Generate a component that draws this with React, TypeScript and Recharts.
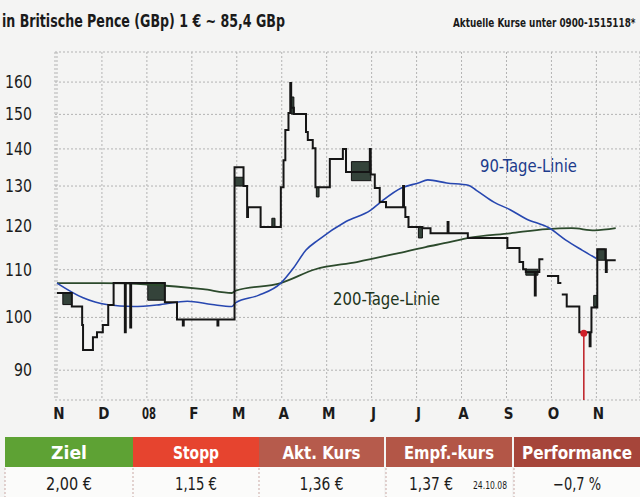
import { ComposedChart, Line, XAxis, YAxis, CartesianGrid, ReferenceArea, ReferenceLine, ReferenceDot } from 'recharts';

// Monate ab Nov 2007 (t = Monate seit 1.11.07)
const monthTicks = [0, 1, 2, 3, 4, 5, 6, 7, 8, 9, 10, 11, 12];
const monthLabels = ['N', 'D', '08', 'F', 'M', 'A', 'M', 'J', 'J', 'A', 'S', 'O', 'N'];
const priceTicks = [90, 100, 110, 120, 130, 140, 150, 160];

// Kursverlauf (Stufenlinie), null = Lücke
const priceT = [0, 0.33, 0.56, 0.58, 0.8, 0.89, 1.02, 1.14, 1.26, 1.51, 1.53, 1.63, 1.65, 2.4, 2.67, 2.8, 2.82, 3.57, 3.59, 3.95,
  4.15, 4.23, 4.25, 4.53, 4.98, 5.04, 5.08, 5.15, 5.19, 5.21, 5.27, 5.54, 5.58, 5.69, 5.75, 6.07, 6.36, 6.43, 6.96, 6.98,
  7.07, 7.18, 7.32, 7.7, 7.72, 7.75, 7.82, 8.13, 8.31, 8.69, 8.71, 9.14, 10.02, 10.29, 10.37, 10.43, 10.63, 10.65, 10.73, 10.82,
  10.86, 10.9, 11.15, 11.22, 11.225, 11.23, 11.34, 11.62, 11.85, 11.87, 11.89, 12.02, 12.21, 12.23, 12.43];
const priceV = [105.0, 102.2, 98.5, 93.7, 96.1, 97.1, 98.5, 102.5, 107.1, 97.1, 107.1, 98.0, 107.1, 103.1, 99.6, 98.4, 99.6, 98.4, 99.6, 135.0,
  130.0, 122.2, 124.6, 119.8, 129.7, 136.9, 145.4, 150.4, 159.7, 152.0, 150.1, 144.8, 142.5, 140.2, 129.7, 137.2, 140.0, 133.7, 140.0, 133.0,
  129.5, 125.9, 124.6, 130.0, 124.6, 122.2, 119.8, 119.5, 118.3, 121.0, 118.3, 117.2, 114.9, 111.7, 110.1, 109.5, 104.5, 109.5, 112.3, 112.3,
  null, 108.6, 107.1, 107.1, null, 104.7, 102.2, 97.1, 94.4, 97.1, 102.0, 114.6, 109.5, 112.1, 112.1];

// 90-Tage-Linie
const ma90T = [0, 0.58, 1.1, 1.7, 2.3, 2.9, 3.45, 3.89, 3.98, 4.48, 4.98, 5.27, 5.54, 5.81, 6.43, 6.98, 7.2, 7.66, 8.04, 8.25,
  8.67, 9.15, 9.33, 9.72, 10.08, 10.43, 10.96, 11.32, 11.68, 12.0];
const ma90V = [107.1, 104.0, 102.6, 102.2, 102.6, 103.3, 102.6, 102.2, 103.0, 104.5, 107.1, 110.5, 114.4, 116.7, 121.1, 123.9, 125.9, 129.5, 130.8, 131.6,
  130.8, 130.2, 128.9, 125.9, 124.0, 121.8, 119.5, 116.7, 114.4, 112.5];

// 200-Tage-Linie
const ma200T = [0, 1.0, 2.04, 3.25, 3.89, 3.98, 4.98, 5.75, 6.67, 7.55, 8.2, 8.73, 9.15, 10.08, 10.9, 11.45, 11.96, 12.43];
const ma200V = [107.1, 107.1, 106.8, 105.8, 105.0, 105.5, 107.1, 110.1, 111.7, 113.6, 115.1, 116.2, 117.2, 118.3, 119.3, 119.5, 119.0, 119.5];

// dunkle Kerzenkörper
const boxT1 = [0.13, 2.02, 3.95, 4.78, 5.21, 5.77, 6.55, 8.04, 10.43, 11.94, 12.02];
const boxT2 = [0.33, 2.4, 4.15, 4.85, 5.27, 5.83, 6.98, 8.13, 10.7, 12.02, 12.19];
const boxLo = [102.6, 103.5, 130.0, 119.8, 150.1, 127.2, 131.4, 117.2, 108.8, 102.2, 112.1];
const boxHi = [105.0, 107.1, 132.3, 121.9, 155.3, 129.7, 136.5, 119.8, 110.1, 104.5, 114.6];

// Empfehlung 24.10.08
const signalT = 11.72;
const signalV = 96.9;

const tableHeads = ['Ziel', 'Stopp', 'Akt. Kurs', 'Empf.-kurs', 'Performance'];
const tableValues = ['2,00 €', '1,15 €', '1,36 €', '1,37 €', '−0,7 %'];
const tableColors = ['#5ea234', '#e6442f', '#b65b4c', '#b35647', '#a6453a'];
const headWidths = [36, 46, 78, 90, 110];
const valueWidths = [46, 42, 44, 44, 48];

const COND = '"DejaVu Sans Condensed", "Liberation Sans Narrow", "Roboto Condensed", "DejaVu Sans", sans-serif';
const Y_MIN = 84.8;
const Y_MAX = 169.9;

const priceData = priceT.map((t, i) => ({ t, v: priceV[i] }));
const ma90Data = ma90T.map((t, i) => ({ t, v: ma90V[i] }));
const ma200Data = ma200T.map((t, i) => ({ t, v: ma200V[i] }));

const YTick = (props: any) => {
  const s = String(props.payload.value);
  return (
    <text x={32} y={props.y} dy={6} textAnchor="end" fontSize={18} fontFamily={COND} fill="#1b1b1b"
      textLength={s.length * 9} lengthAdjust="spacingAndGlyphs">{s}</text>
  );
};

const XTick = (props: any) => {
  const label = monthLabels[props.index] ?? '';
  const squeeze = label.length === 2 ? { textLength: 14, lengthAdjust: 'spacingAndGlyphs' } : {};
  return (
    <text x={props.x + 2} y={379} textAnchor="middle" fontSize={15} fontWeight="bold" fontFamily={COND} fill="#1b1b1b" {...squeeze}>
      {label}
    </text>
  );
};

const colX = [5, 133, 259, 386, 514, 640];

export default function App() {
  return (
    <div style={{ position: 'absolute', left: 0, top: 0, width: 640, height: 497, background: '#f4f4f3', overflow: 'hidden' }}>
      <div style={{ position: 'absolute', left: 0, top: 40 }}>
        <ComposedChart width={640} height={390} margin={{ top: 12, right: 0, bottom: 0, left: 0 }}>
          <CartesianGrid strokeDasharray="2 2" stroke="#b3b3b3" />
          <XAxis type="number" dataKey="t" domain={[-0.044, 12.97]} ticks={monthTicks} interval={0}
            allowDataOverflow axisLine={false} tickLine={false} height={30} tick={XTick} />
          <YAxis type="number" scale="log" domain={[Y_MIN, Y_MAX]} ticks={priceTicks} interval={0}
            allowDataOverflow axisLine={false} tickLine={false} width={55} tick={YTick} />
          <Line data={ma200Data} dataKey="v" type="monotone" stroke="#2c4a2c" strokeWidth={1.8} dot={false} isAnimationActive={false} />
          <Line data={ma90Data} dataKey="v" type="monotone" stroke="#2747b0" strokeWidth={1.6} dot={false} isAnimationActive={false} />
          {boxT1.map((t1, i) => (
            <ReferenceArea key={i} x1={t1} x2={boxT2[i]} y1={boxLo[i]} y2={boxHi[i]}
              fill="#34433a" fillOpacity={1} stroke="#111" strokeWidth={1} />
          ))}
          <Line data={priceData} dataKey="v" type="stepAfter" stroke="#151515" strokeWidth={2} dot={false}
            connectNulls={false} isAnimationActive={false} />
          <ReferenceLine segment={[{ x: signalT, y: signalV }, { x: signalT, y: Y_MIN }]} stroke="#c02a30" strokeWidth={1.6} />
          <ReferenceDot x={signalT} y={signalV} r={3.5} fill="#d0202a" stroke="none" />
        </ComposedChart>
      </div>
      <svg width={640} height={497} style={{ position: 'absolute', left: 0, top: 0, pointerEvents: 'none' }}>
        <text x={2} y={27} fontSize={18} fontWeight="bold" fontFamily={COND} fill="#1a1a1a"
          textLength={283} lengthAdjust="spacingAndGlyphs">in Britische Pence (GBp) 1 € ~ 85,4 GBp</text>
        <text transform="translate(453,27) scale(0.82,1)" fontSize={12} fontWeight="bold" fontFamily={COND} fill="#1a1a1a">
          Aktuelle Kurse unter 0900-1515118*
        </text>
        <text x={480} y={172} fontSize={18} fontFamily={COND} fill="#1d3b8c"
          textLength={97} lengthAdjust="spacingAndGlyphs">90-Tage-Linie</text>
        <text x={333} y={305} fontSize={18} fontFamily={COND} fill="#1e3520"
          textLength={107} lengthAdjust="spacingAndGlyphs">200-Tage-Linie</text>
        {tableHeads.map((h, i) => {
          const x0 = colX[i];
          const x1 = i < 4 ? colX[i + 1] - (i >= 2 ? 2 : 0) : 640;
          const cx = (x0 + x1) / 2;
          return (
            <g key={h}>
              <rect x={x0} y={437} width={x1 - x0} height={30} fill={tableColors[i]} />
              <text x={cx} y={459} textAnchor="middle" fontSize={18} fontWeight="bold" fontFamily={COND} fill="#fff"
                textLength={headWidths[i]} lengthAdjust="spacingAndGlyphs">{h}</text>
              <rect x={x0} y={467} width={x1 - x0} height={30} fill="#fbfbfa" />
              <line x1={x0} y1={468} x2={x0} y2={497} stroke="#c9a9a5" strokeDasharray="2 2" />
              <text x={i === 3 ? cx - 18 : cx} y={490} textAnchor="middle" fontSize={17} fontFamily={COND} fill="#1b1b1b"
                textLength={valueWidths[i]} lengthAdjust="spacingAndGlyphs">
                {tableValues[i]}
              </text>
              {i === 3 && (
                <text x={x1 - 22} y={489} textAnchor="middle" fontSize={10} fontFamily={COND} fill="#1b1b1b"
                  textLength={34} lengthAdjust="spacingAndGlyphs">24.10.08</text>
              )}
            </g>
          );
        })}
      </svg>
    </div>
  );
}
